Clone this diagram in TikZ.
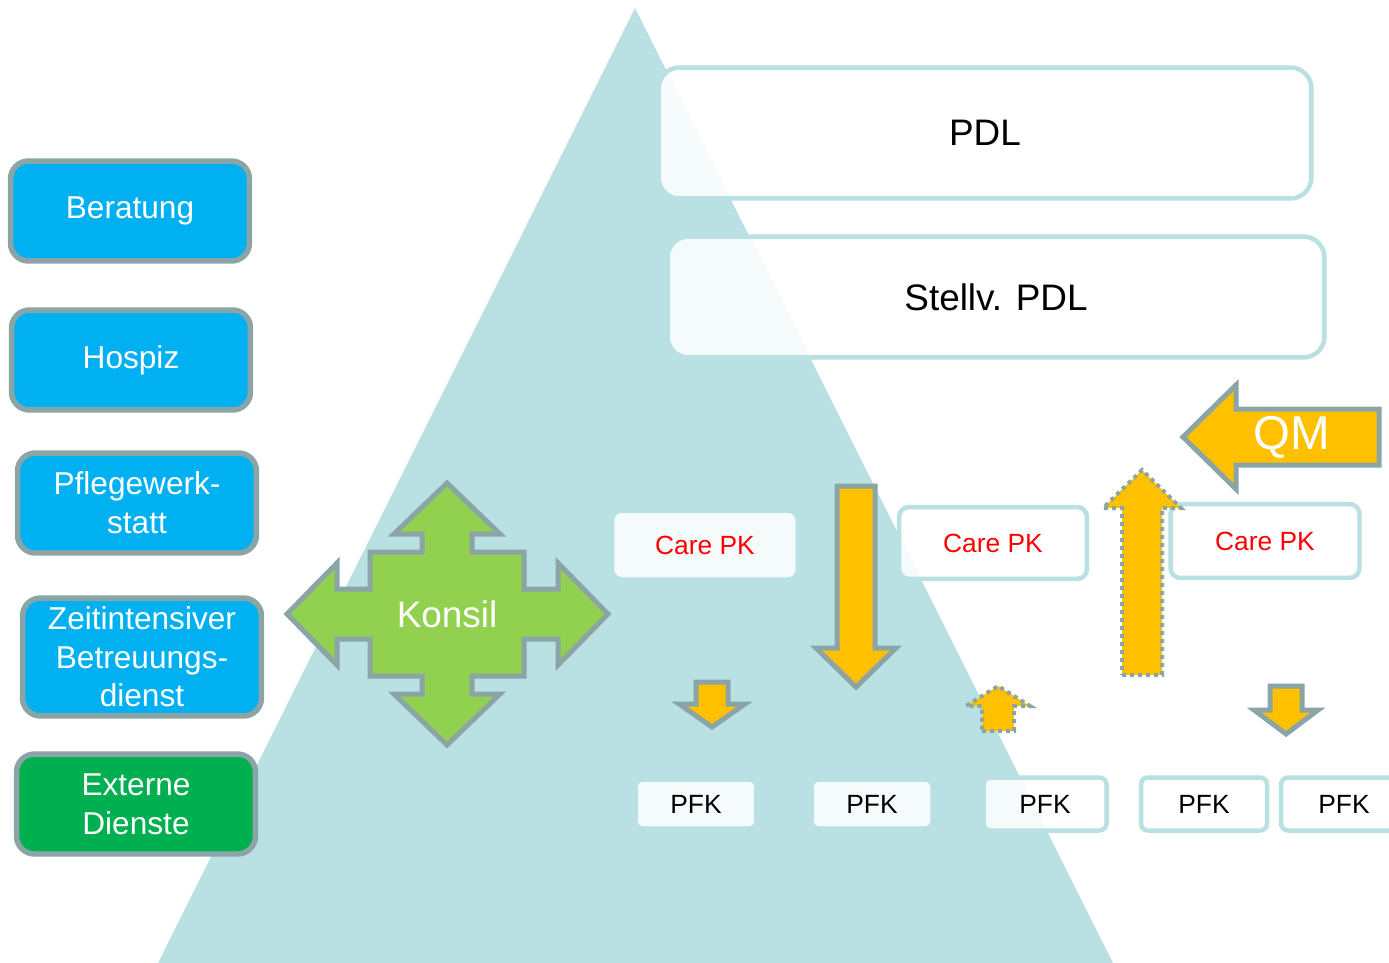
\documentclass[tikz,border=0pt]{standalone}
\usepackage{fontspec}
\setmainfont{Liberation Sans}
\usepackage{xcolor}
\usepackage{tikz}
\usetikzlibrary{positioning, arrows.meta}
\definecolor{pyramidblue}{HTML}{B9E0E3}
\definecolor{servicecyan}{HTML}{00B0F0}
\definecolor{servicegreen}{HTML}{00B050}
\definecolor{konsilgreen}{HTML}{92D050}
\definecolor{arrowyellow}{HTML}{FFC000}
\definecolor{edgegray}{HTML}{8BA5A6}

\begin{document}
\begin{tikzpicture}[
    x=0.02cm, y=-0.02cm,
    service/.style={rectangle, rounded corners=0.36cm, draw=edgegray, line width=0.11cm,
                fill=servicecyan, text=white, align=center,
                minimum width=4.78cm, minimum height=2.0cm,
                font=\fontsize{18}{22}\selectfont},
    level/.style={rectangle, draw=pyramidblue, line width=0.09cm,
                fill=white, fill opacity=0.86, text opacity=1, align=center},
    lead/.style={level, rounded corners=0.42cm, font=\fontsize{21}{25}\selectfont},
    carepk/.style={level, rounded corners=0.2cm, text=red,
                minimum width=3.72cm, minimum height=1.38cm,
                font=\fontsize{15}{18}\selectfont},
    pfk/.style={level, rounded corners=0.14cm,
                minimum width=2.42cm, minimum height=0.98cm,
                font=\fontsize{15}{18}\selectfont},
    blockarrow/.style={fill=arrowyellow, draw=edgegray, line width=0.1cm, line join=miter},
    dotarrow/.style={fill=arrowyellow, draw=edgegray, line width=0.08cm,
                dash pattern=on 0.08cm off 0.08cm}
  ]
  \useasboundingbox (0,0) rectangle (1389,963);

  % Pyramid in the background
  \fill[pyramidblue] (635,8) -- (1113,963) -- (158,963) -- cycle;

  % Left: services
  \node[service] (beratung) at (130,211) {\raisebox{-0.1cm}{Beratung}};
  \node[service] (hospiz)   at (131,360) {\raisebox{-0.1cm}{Hospiz}};
  \node[service] (werkstatt) at (137,503) {Pflegewerk-\\statt};
  \node[service, minimum height=2.36cm] (betreuung) at (142,657) {Zeitintensiver\\Betreuungs-\\dienst};
  \node[service, fill=servicegreen] (extern) at (136,804) {Externe\\Dienste};

  % Konsil: four-way arrow
  \draw[fill=konsilgreen, draw=edgegray, line width=0.1cm]
    (447,483) -- (500,534) -- (472,534) -- (472,552) -- (524,552) -- (524,589)
    -- (558,589) -- (558,563) -- (608,614) -- (558,665) -- (558,639) -- (524,639)
    -- (524,676) -- (472,676) -- (472,694) -- (500,694) -- (447,745) -- (394,694)
    -- (422,694) -- (422,676) -- (370,676) -- (370,639) -- (337,639) -- (337,665)
    -- (287,614) -- (337,563) -- (337,589) -- (370,589) -- (370,552) -- (422,552)
    -- (422,534) -- (394,534) -- cycle;
  \node[text=white, font=\fontsize{21}{25}\selectfont] (konsil) at (447,614) {Konsil};

  % Top: management
  \node[lead, minimum width=13.06cm, minimum height=2.62cm] (pdl) at (985,133) {PDL};
  \node[lead, minimum width=13.14cm, minimum height=2.42cm] (stellv) at (996,297) {Stellv. PDL};

  % Middle: care staff
  \node[carepk] (care1) at (705,545) {Care PK};
  \node[carepk, minimum width=3.76cm, minimum height=1.44cm] (care2) at (993,543) {Care PK};
  \node[carepk, minimum width=3.78cm, minimum height=1.48cm] (care3) at (1265,541) {Care PK};

  % Bottom: nurses
  \node[pfk] (pfk1) at (696,804) {PFK};
  \node[pfk] (pfk2) at (872,804) {PFK};
  \node[pfk, minimum width=2.46cm, minimum height=1.06cm] (pfk3) at (1045,804) {PFK};
  \node[pfk, minimum width=2.52cm, minimum height=1.06cm] (pfk4) at (1204,804) {PFK};
  \node[pfk, minimum width=2.52cm, minimum height=1.06cm] (pfk5) at (1344,804) {PFK};

  % QM arrow from the right
  \draw[blockarrow] (1379,409) -- (1236,409) -- (1236,385) -- (1183,437) -- (1236,489)
    -- (1236,465) -- (1379,465) -- cycle;
  \node[text=white, font=\fontsize{27}{30}\selectfont] (qm) at (1292,437) {QM};

  % Block arrows down
  \foreach \cx/\s/\h/\ya/\yb/\yc in {856/19/40/486/648/687, 712/16/33/682/704/727, 1286/16/32/686/710/734}
    \draw[blockarrow] ({\cx-\s},\ya) -- ({\cx+\s},\ya) -- ({\cx+\s},\yb) -- ({\cx+\h},\yb)
      -- (\cx,\yc) -- ({\cx-\h},\yb) -- ({\cx-\s},\yb) -- cycle;

  % Dotted arrows up
  \foreach \cx/\s/\h/\ya/\yb/\yc in {1142/20/39/675/508/470, 998/16/32/731/706/686}
    \draw[dotarrow] ({\cx-\s},\ya) -- ({\cx+\s},\ya) -- ({\cx+\s},\yb) -- ({\cx+\h},\yb)
      -- (\cx,\yc) -- ({\cx-\h},\yb) -- ({\cx-\s},\yb) -- cycle;
\end{tikzpicture}
\end{document}
